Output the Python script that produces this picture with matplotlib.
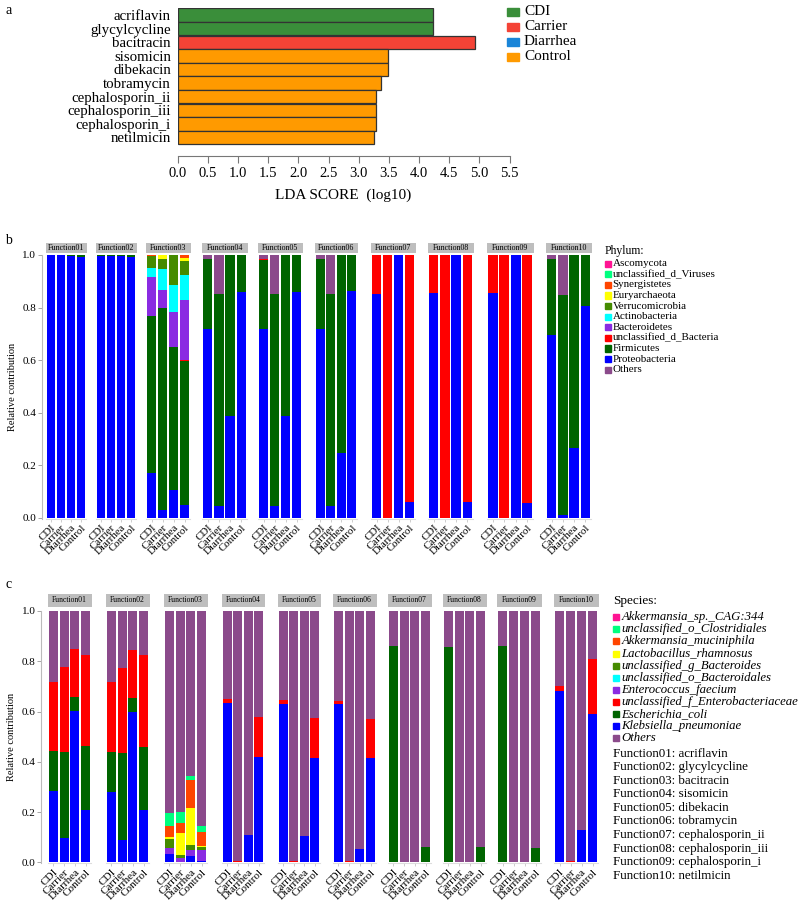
import numpy as np
import matplotlib
matplotlib.use("Agg")
import matplotlib.pyplot as plt
from matplotlib.patches import Rectangle

plt.rcParams['font.family'] = ['Liberation Serif', 'DejaVu Serif']

# ---------------- panel a: LDA scores ----------------
lda_names = ["acriflavin", "glycylcycline", "bacitracin", "sisomicin", "dibekacin",
             "tobramycin", "cephalosporin_ii", "cephalosporin_iii", "cephalosporin_i",
             "netilmicin"]
lda_scores = [4.24, 4.24, 4.93, 3.49, 3.48, 3.37, 3.28, 3.28, 3.28, 3.26]
lda_group = ["CDI", "CDI", "Carrier", "Control", "Control", "Control", "Control",
             "Control", "Control", "Control"]
groups = ["CDI", "Carrier", "Diarrhea", "Control"]
group_colors = {"CDI": "#3a8e3a", "Carrier": "#f44336", "Diarrhea": "#1a85d8",
                "Control": "#ff9a00"}

functions = ["Function%02d" % (i + 1) for i in range(10)]

Z = [0, 0, 0, 0]

# ---------------- panel b: phylum (rows = functions, cols = CDI/Carrier/Diarrhea/Control)
proteobacteria = [
    [0.999, 1.000, 0.997, 0.994],
    [0.998, 0.997, 0.995, 0.993],
    [0.171, 0.029, 0.105, 0.048],
    [0.720, 0.044, 0.386, 0.861],
    [0.720, 0.045, 0.386, 0.860],
    [0.720, 0.045, 0.248, 0.862],
    [0.852, 0.000, 1.000, 0.060],
    [0.854, 0.000, 1.000, 0.062],
    [0.857, 0.000, 1.000, 0.058],
    [0.694, 0.010, 0.266, 0.805],
]
firmicutes = [
    [0.000, 0.000, 0.003, 0.006],
    [0.002, 0.003, 0.005, 0.007],
    [0.598, 0.771, 0.546, 0.548],
    [0.265, 0.808, 0.614, 0.139],
    [0.261, 0.808, 0.614, 0.140],
    [0.265, 0.808, 0.752, 0.138],
    Z, Z, Z,
    [0.291, 0.836, 0.734, 0.195],
]
uncl_bacteria = [Z, Z, [0, 0, 0, 0.004], Z, [0.005, 0, 0, 0], Z,
                 [0.148, 1.0, 0, 0.940],
                 [0.146, 1.0, 0, 0.938],
                 [0.143, 1.0, 0, 0.942], Z]
bacteroidetes = [Z, Z, [0.149, 0.065, 0.132, 0.227], Z, Z, Z, Z, Z, Z, Z]
actinobacteria = [Z, Z, [0.034, 0.083, 0.103, 0.097], Z, Z, Z, Z, Z, Z, Z]
verrucomicrobia = [Z, Z, [0.044, 0.037, 0.114, 0.053], Z, Z, Z, Z, Z, Z, Z]
euryarchaeota = [Z, Z, [0.000, 0.014, 0.000, 0.012], Z, Z, Z, Z, Z, Z, Z]
synergistetes = [Z, Z, [0.004, 0.001, 0.000, 0.011], Z, Z, Z, Z, Z, Z, Z]
uncl_viruses = [Z] * 10
ascomycota = [Z] * 10
others_b = [
    [0.001, 0, 0, 0], Z, Z,
    [0.015, 0.148, 0, 0],
    [0.014, 0.147, 0, 0],
    [0.015, 0.147, 0, 0],
    Z, Z, Z,
    [0.015, 0.154, 0, 0],
]

# ---------------- panel c: species
klebsiella = [
    [0.283, 0.095, 0.601, 0.209],
    [0.280, 0.089, 0.597, 0.207],
    [0.033, 0.000, 0.027, 0.004],
    [0.635, 0.000, 0.107, 0.420],
    [0.629, 0.000, 0.103, 0.416],
    [0.631, 0.000, 0.053, 0.416],
    Z, Z, Z,
    [0.683, 0.000, 0.127, 0.589],
]
ecoli = [
    [0.161, 0.342, 0.058, 0.254],
    [0.160, 0.344, 0.056, 0.250],
    Z, Z, Z, Z,
    [0.860, 0, 0, 0.060],
    [0.857, 0, 0, 0.059],
    [0.860, 0, 0, 0.057],
    Z,
]
enterobacteriaceae = [
    [0.273, 0.339, 0.188, 0.362],
    [0.277, 0.340, 0.191, 0.366],
    Z,
    [0.016, 0.004, 0, 0.159],
    [0.015, 0.004, 0, 0.160],
    [0.009, 0.004, 0, 0.155],
    Z, Z, Z,
    [0.017, 0.004, 0, 0.220],
]
enterococcus = [Z, Z, [0.023, 0.016, 0.020, 0.043], Z, Z, Z, Z, Z, Z, Z]
bacteroidales = [Z] * 10
g_bacteroides = [Z, Z, [0.035, 0.013, 0.020, 0.012], Z, Z, Z, Z, Z, Z, Z]
lactobacillus = [Z, Z, [0.008, 0.088, 0.150, 0.005], Z, Z, Z, Z, Z, Z, Z]
akk_muciniphila = [Z, Z, [0.045, 0.039, 0.112, 0.056], Z, Z, Z, Z, Z, Z, Z]
clostridiales = [Z, Z, [0.053, 0.044, 0.015, 0.023], Z, Z, Z, Z, Z, Z, Z]
akk_cag344 = [Z] * 10
others_c = [
    [0.283, 0.224, 0.153, 0.175],
    [0.283, 0.227, 0.156, 0.177],
    [0.803, 0.800, 0.656, 0.857],
    [0.349, 0.996, 0.893, 0.421],
    [0.356, 0.996, 0.897, 0.424],
    [0.360, 0.996, 0.947, 0.429],
    [0.140, 1.000, 1.000, 0.940],
    [0.143, 1.000, 1.000, 0.941],
    [0.140, 1.000, 1.000, 0.943],
    [0.300, 0.996, 0.873, 0.191],
]

palette = ["#0000FF", "#006400", "#FF0000", "#8A2BE2", "#00FFFF", "#458B00",
           "#FFFF00", "#FF4500", "#00FF7F", "#FF1493", "#8B4A8B"]

# stacking order bottom -> top
phylum = [("Proteobacteria", proteobacteria), ("Firmicutes", firmicutes),
          ("unclassified_d_Bacteria", uncl_bacteria), ("Bacteroidetes", bacteroidetes),
          ("Actinobacteria", actinobacteria), ("Verrucomicrobia", verrucomicrobia),
          ("Euryarchaeota", euryarchaeota), ("Synergistetes", synergistetes),
          ("unclassified_d_Viruses", uncl_viruses), ("Ascomycota", ascomycota),
          ("Others", others_b)]
species = [("Klebsiella_pneumoniae", klebsiella), ("Escherichia_coli", ecoli),
           ("unclassified_f_Enterobacteriaceae", enterobacteriaceae),
           ("Enterococcus_faecium", enterococcus),
           ("unclassified_o_Bacteroidales", bacteroidales),
           ("unclassified_g_Bacteroides", g_bacteroides),
           ("Lactobacillus_rhamnosus", lactobacillus),
           ("Akkermansia_muciniphila", akk_muciniphila),
           ("unclassified_o_Clostridiales", clostridiales),
           ("Akkermansia_sp._CAG:344", akk_cag344),
           ("Others", others_c)]

W, H = 800, 900
fig = plt.figure(figsize=(W / 100, H / 100), dpi=100)


def px_axes(x0, y0, x1, y1):
    # pixel box measured from the top-left corner
    return fig.add_axes([x0 / W, 1 - y1 / H, (x1 - x0) / W, (y1 - y0) / H])


def fig_text(x, y, s, **kw):
    fig.text(x / W, 1 - y / H, s, **kw)


def fig_square(x, y, w, h, color):
    fig.add_artist(Rectangle((x / W, 1 - (y + h / 2) / H), w / W, h / H,
                             color=color, transform=fig.transFigure))


# ---------------- panel a ----------------
ax = px_axes(177.7, 8.3, 509.5, 156)
ypos = np.arange(len(lda_names))
ax.barh(ypos, lda_scores, height=1.0, color=[group_colors[g] for g in lda_group],
        edgecolor="#333333", linewidth=0.9)
ax.set_xlim(0, 5.5)
ax.set_ylim(9.5 + 11.7 / 13.6, -0.5)
ax.set_yticks(ypos)
ax.set_yticklabels(lda_names, fontsize=10.7)
ax.tick_params(axis="y", length=0, pad=5)
ax.set_xticks(np.arange(0, 5.51, 0.5))
ax.set_xticklabels(["%.1f" % v for v in np.arange(0, 5.51, 0.5)], fontsize=10.5)
ax.tick_params(axis="x", length=5, color="#777777", pad=3)
for s in ["top", "right", "left"]:
    ax.spines[s].set_visible(False)
ax.spines["bottom"].set_color("#777777")
ax.set_xlabel("LDA SCORE  (log10)", fontsize=11, labelpad=6)

for i, g in enumerate(groups):
    fig_square(507, 11.7 + 15 * i, 12, 8, group_colors[g])
    fig_text(524, 11.7 + 15 * i, g, fontsize=11, va="center")

fig_text(5, 10, "a", fontsize=10, va="center")


# ---------------- facet panels ----------------
def facet_row(table, lefts, rights, y_top, y_bot, strip, tick_fs, strip_fs, spine_out):
    for i in range(10):
        a = px_axes(lefts[i], y_top, rights[i], y_bot)
        x = np.arange(4)
        bottom = np.zeros(4)
        for k, (name, vals) in enumerate(table):
            v = np.array(vals[i], dtype=float)
            a.bar(x, v, bottom=bottom, width=0.84, color=palette[k], linewidth=0)
            bottom += v
        a.set_xlim(-0.5, 3.5)
        a.set_ylim(-0.004, 1.0)
        a.set_xticks(x)
        a.set_xticklabels(groups, rotation=45, ha="right", va="top",
                          rotation_mode="anchor", fontsize=tick_fs)
        a.tick_params(axis="x", length=2, width=0.5, color="#bbbbbb", pad=1)
        for s in ["top", "right"]:
            a.spines[s].set_visible(False)
        a.spines["bottom"].set_color("#dddddd")
        if i == 0:
            a.spines["left"].set_color("#bbbbbb")
            a.spines["left"].set_position(("outward", spine_out))
            a.set_yticks([0, 0.2, 0.4, 0.6, 0.8, 1.0])
            a.set_yticklabels(["0.0", "0.2", "0.4", "0.6", "0.8", "1.0"], fontsize=8)
            a.tick_params(axis="y", length=3, width=0.6, color="#999999", pad=1)
            a.set_ylabel("Relative contribution", fontsize=7.5, labelpad=4)
        else:
            a.spines["left"].set_visible(False)
            a.set_yticks([])
        sa = px_axes(lefts[i] - 0.5, strip[0], rights[i] + 0.5, strip[1])
        sa.set_facecolor("#bebebe")
        sa.set_xticks([])
        sa.set_yticks([])
        for s in sa.spines.values():
            s.set_visible(False)
        sa.text(0.5, 0.5, functions[i], ha="center", va="center",
                fontsize=strip_fs, transform=sa.transAxes)


b_lefts = [46, 96, 146, 202, 258, 315, 371, 428, 487, 546]
b_rights = [86, 136, 190, 247, 302, 357, 415, 473, 533, 591]
facet_row(phylum, b_lefts, b_rights, 255, 519, (242.7, 252.7), 7.8, 5.8, 3)

c_lefts = [48, 106, 164, 222, 278, 333, 388, 443, 497, 554]
c_rights = [91, 149, 207, 264, 320, 376, 431, 486, 541, 598]
facet_row(species, c_lefts, c_rights, 611, 863.3, (594, 606.7), 8.0, 5.5, 5)

fig_text(5, 241, "b", fontsize=10, va="center")
fig_text(5, 584, "c", fontsize=10, va="center")

# legend b (top to bottom is reverse of stacking except Others last)
order = [9, 8, 7, 6, 5, 4, 3, 2, 1, 0, 10]
fig_text(605, 250.7, "Phylum:", fontsize=8.5, va="center")
for i, k in enumerate(order):
    yy = 263.7 + 10.6 * i
    fig_square(605, yy, 6, 6, palette[k])
    fig_text(612.5, yy, phylum[k][0], fontsize=7.9, va="center")

# legend c
fig_text(613, 600.7, "Species:", fontsize=9.5, va="center")
for i, k in enumerate(order):
    yy = 617.3 + 12.07 * i
    fig_square(613.3, yy, 6, 6, palette[k])
    fig_text(621.5, yy, species[k][0], fontsize=9.2, style="italic", va="center")

for i, (f, n) in enumerate(zip(functions, lda_names)):
    fig_text(613.3, 753.7 + 13.55 * i, "%s: %s" % (f, n), fontsize=9.35, va="center")

fig.savefig("out.png", dpi=100)
